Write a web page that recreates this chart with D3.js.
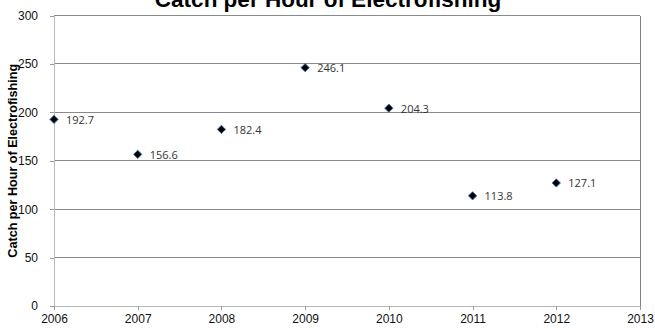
<!DOCTYPE html>
<html>
<head>
<meta charset="utf-8">
<script src="https://cdn.jsdelivr.net/npm/d3@7"></script>
<style>
  html, body { margin: 0; padding: 0; background: #fff; }
  svg { display: block; }
</style>
</head>
<body>
<svg id="chart" width="655" height="329"></svg>
<script>
// Catch per hour of electrofishing, by survey year
const years = [2006, 2007, 2008, 2009, 2010, 2011, 2012];
const catchPerHour = [192.7, 156.6, 182.4, 246.1, 204.3, 113.8, 127.1];
const xTicks = [2006, 2007, 2008, 2009, 2010, 2011, 2012, 2013];
const yTicks = [0, 50, 100, 150, 200, 250, 300];
const titleText = "Catch per Hour of Electrofishing";
const yAxisTitle = "Catch per Hour of Electrofishing";

const svg = d3.select("#chart");
const plot = { left: 54, right: 640, top: 15.5, bottom: 306 };

const x = d3.scaleLinear().domain([2006, 2013]).range([plot.left, plot.right]);
const y = d3.scaleLinear().domain([0, 300]).range([plot.bottom, plot.top]);

// horizontal gridlines
svg.append("g")
  .selectAll("line")
  .data(yTicks.filter(d => d > 0))
  .join("line")
  .attr("x1", plot.left).attr("x2", plot.right)
  .attr("y1", d => y(d)).attr("y2", d => y(d))
  .attr("stroke", "#8a8a8a").attr("stroke-width", 1)
  .attr("shape-rendering", "crispEdges");

// right border of the plot area
svg.append("line")
  .attr("x1", plot.right).attr("x2", plot.right)
  .attr("y1", plot.top).attr("y2", plot.bottom)
  .attr("stroke", "#808080")
  .attr("shape-rendering", "crispEdges");

// y axis
const yAxis = svg.append("g")
  .attr("transform", `translate(${plot.left},0)`)
  .call(d3.axisLeft(y).tickValues(yTicks).tickSize(4).tickPadding(12).tickFormat(d3.format("d")));
yAxis.select(".domain").attr("stroke", "#b8b8b8").attr("shape-rendering", "crispEdges");
yAxis.selectAll(".tick line").attr("stroke", "#9a9a9a").attr("shape-rendering", "crispEdges");
yAxis.selectAll(".tick text")
  .attr("font-family", "Liberation Sans, Arial, sans-serif")
  .attr("font-size", 12).attr("fill", "#111");

// x axis
const xAxis = svg.append("g")
  .attr("transform", `translate(0,${plot.bottom})`)
  .call(d3.axisBottom(x).tickValues(xTicks).tickSize(4).tickPadding(4).tickFormat(d3.format("d")));
xAxis.select(".domain").attr("stroke", "#b8b8b8").attr("shape-rendering", "crispEdges");
xAxis.selectAll(".tick line").attr("stroke", "#9a9a9a").attr("shape-rendering", "crispEdges");
xAxis.selectAll(".tick text")
  .attr("font-family", "Liberation Sans, Arial, sans-serif")
  .attr("font-size", 12).attr("fill", "#111");

// chart title (runs past the top edge of the chart)
svg.append("text")
  .attr("x", 328).attr("y", 7)
  .attr("text-anchor", "middle")
  .attr("font-family", "Liberation Sans, Arial, sans-serif")
  .attr("font-weight", "bold")
  .attr("font-size", 22.5)
  .attr("fill", "#000")
  .text(titleText);

// y axis title
svg.append("text")
  .attr("transform", `translate(17,${(plot.top + plot.bottom) / 2}) rotate(-90)`)
  .attr("text-anchor", "middle")
  .attr("font-family", "Liberation Sans, Arial, sans-serif")
  .attr("font-weight", "bold")
  .attr("font-size", 12.6)
  .attr("fill", "#000")
  .text(yAxisTitle);

const points = years.map((yr, i) => ({ year: yr, value: catchPerHour[i] }));

// diamond markers
const diamond = d3.symbol().type(d3.symbolDiamond2).size(44);
svg.append("g")
  .selectAll("path")
  .data(points)
  .join("path")
  .attr("d", diamond)
  .attr("transform", d => `translate(${x(d.year)},${y(d.value)})`)
  .attr("fill", "#000")
  .attr("stroke", "#3f6fb0")
  .attr("stroke-width", 0.9);

// value labels
svg.append("g")
  .selectAll("text")
  .data(points)
  .join("text")
  .attr("x", d => x(d.year) + 12)
  .attr("y", d => y(d.value) + 4.5)
  .attr("font-family", "Open Sans, Noto Sans, sans-serif")
  .attr("font-size", 11)
  .attr("fill", "#333")
  .text(d => d3.format(".1f")(d.value));
</script>
</body>
</html>
